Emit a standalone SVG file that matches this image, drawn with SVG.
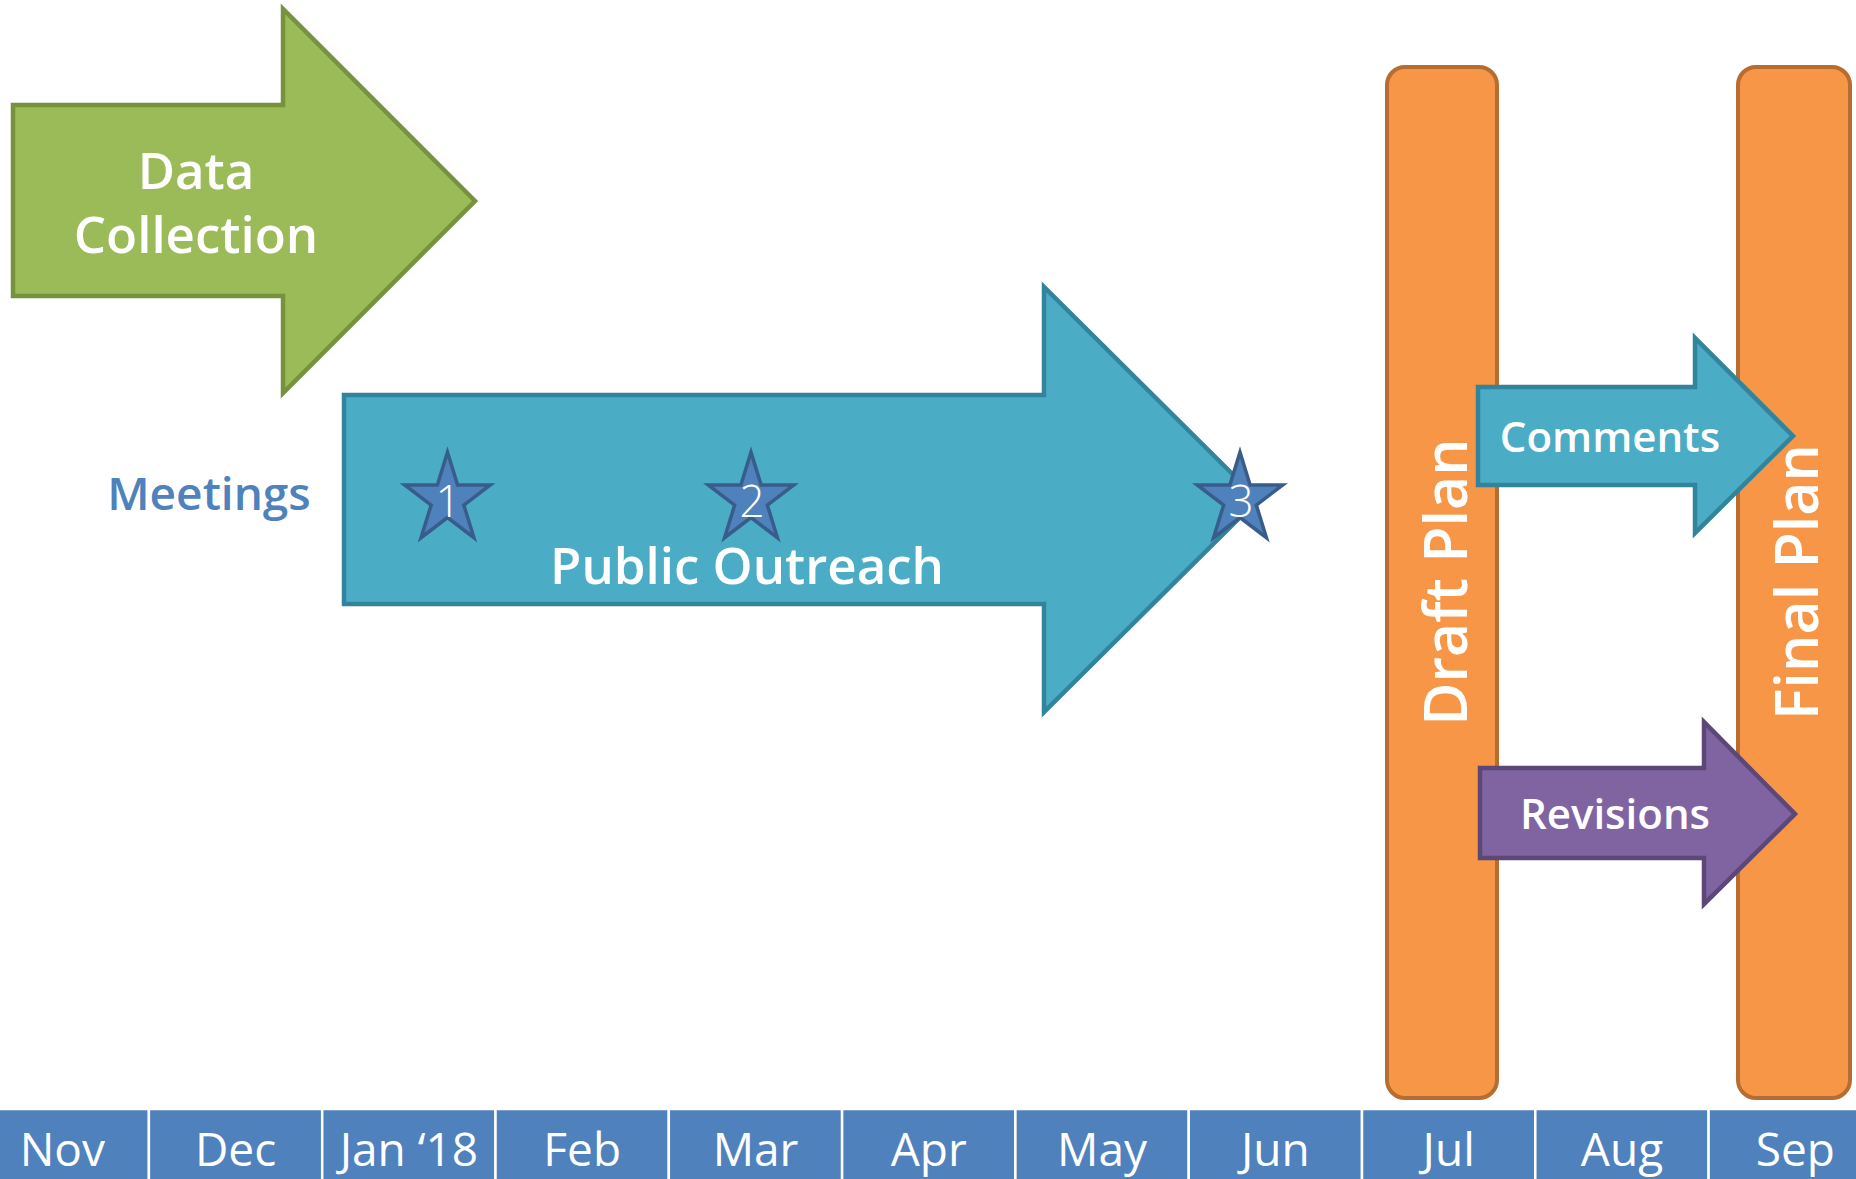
<svg xmlns="http://www.w3.org/2000/svg" width="1856" height="1179" viewBox="0 0 1856 1179">
<style>
  .lbl { font-family: "Open Sans", "Noto Sans", "Liberation Sans", sans-serif; fill: #ffffff; text-anchor: middle; }
  .big { font-size: 51px; font-weight: 600; }
  .mid { font-size: 42px; font-weight: 600; }
  .bar { font-size: 59px; font-weight: 600; }
  .month { font-size: 46px; font-weight: 400; }
  .num { font-size: 44px; font-weight: 300; }
  .cell { fill: #4F81BD; stroke: #ffffff; stroke-width: 2.5; }
  .plan { fill: #F79646; stroke: #B66D31; stroke-width: 4; }
  .star { fill: #4F81BD; stroke: #385D8A; stroke-width: 3.5; stroke-linejoin: miter; }
</style>
<defs>
  <polygon id="star5" points="0,-47.25 10.11,-14.6 42.8,-14.6 16.34,5.58 26.45,38.22 0,18.05 -26.45,38.22 -16.34,5.58 -42.8,-14.6 -10.11,-14.6"/>
</defs>
<rect width="1856" height="1179" fill="#ffffff"/>

<g id="timeline">
  <rect class="cell" x="-24.4" y="1109" width="173.3" height="80"/>
  <rect class="cell" x="148.9" y="1109" width="173.3" height="80"/>
  <rect class="cell" x="322.2" y="1109" width="173.3" height="80"/>
  <rect class="cell" x="495.5" y="1109" width="173.3" height="80"/>
  <rect class="cell" x="668.8" y="1109" width="173.3" height="80"/>
  <rect class="cell" x="842.1" y="1109" width="173.3" height="80"/>
  <rect class="cell" x="1015.4" y="1109" width="173.3" height="80"/>
  <rect class="cell" x="1188.7" y="1109" width="173.3" height="80"/>
  <rect class="cell" x="1362" y="1109" width="173.3" height="80"/>
  <rect class="cell" x="1535.3" y="1109" width="173.3" height="80"/>
  <rect class="cell" x="1708.6" y="1109" width="173.3" height="80"/>
  <text class="lbl month" x="62.3" y="1166">Nov</text>
  <text class="lbl month" x="235.6" y="1166">Dec</text>
  <text class="lbl month" x="408.9" y="1166">Jan ‘18</text>
  <text class="lbl month" x="582.2" y="1166">Feb</text>
  <text class="lbl month" x="755.5" y="1166">Mar</text>
  <text class="lbl month" x="928.8" y="1166">Apr</text>
  <text class="lbl month" x="1102.1" y="1166">May</text>
  <text class="lbl month" x="1275.4" y="1166">Jun</text>
  <text class="lbl month" x="1448.7" y="1166">Jul</text>
  <text class="lbl month" x="1622" y="1166">Aug</text>
  <text class="lbl month" x="1795.3" y="1166">Sep</text>
</g>

<g id="data-collection">
  <polygon points="13,105 283,105 283,9 475,201 283,393 283,296 13,296" fill="#9BBB59" stroke="#76923C" stroke-width="4.5"/>
  <text class="lbl big" x="196" y="189">Data</text>
  <text class="lbl big" x="196" y="253">Collection</text>
</g>

<g id="public-outreach">
  <polygon points="344,395 1044,395 1044,287 1258,499.5 1044,712 1044,604 344,604" fill="#4BACC6" stroke="#31849B" stroke-width="4.5"/>
  <text class="lbl big" x="747" y="584">Public Outreach</text>
</g>

<g id="meetings">
  <text x="209" y="510" font-family="'Open Sans', 'Noto Sans', 'Liberation Sans', sans-serif" font-size="46" font-weight="600" fill="#4F81BD" text-anchor="middle">Meetings</text>
</g>

<g id="meeting-1">
  <use href="#star5" class="star" x="447.5" y="499.5"/>
  <text class="lbl num" x="448" y="517">1</text>
</g>
<g id="meeting-2">
  <use href="#star5" class="star" x="751" y="499.5"/>
  <text class="lbl num" x="752" y="517">2</text>
</g>
<g id="meeting-3">
  <use href="#star5" class="star" x="1240" y="499.5"/>
  <text class="lbl num" x="1241" y="517">3</text>
</g>

<g id="draft-plan">
  <rect class="plan" x="1387" y="67" width="110" height="1031" rx="18"/>
  <text class="lbl bar" transform="translate(1467,582) rotate(-90)" x="0" y="0">Draft Plan</text>
</g>

<g id="final-plan">
  <rect class="plan" x="1738" y="67" width="112" height="1031" rx="18"/>
  <text class="lbl bar" transform="translate(1818,582) rotate(-90)" x="0" y="0">Final Plan</text>
</g>

<g id="connectors">
  <g id="comments">
    <polygon points="1478,387 1695,387 1695,338 1793,436 1695,533 1695,485 1478,485" fill="#4BACC6" stroke="#31849B" stroke-width="4.5"/>
    <text class="lbl mid" x="1610" y="452">Comments</text>
  </g>
  <g id="revisions">
    <polygon points="1480,768 1704,768 1704,722 1795,814 1704,904 1704,858 1480,858" fill="#8064A2" stroke="#5C4776" stroke-width="4.5"/>
    <text class="lbl mid" x="1615" y="829">Revisions</text>
  </g>
</g>
</svg>
